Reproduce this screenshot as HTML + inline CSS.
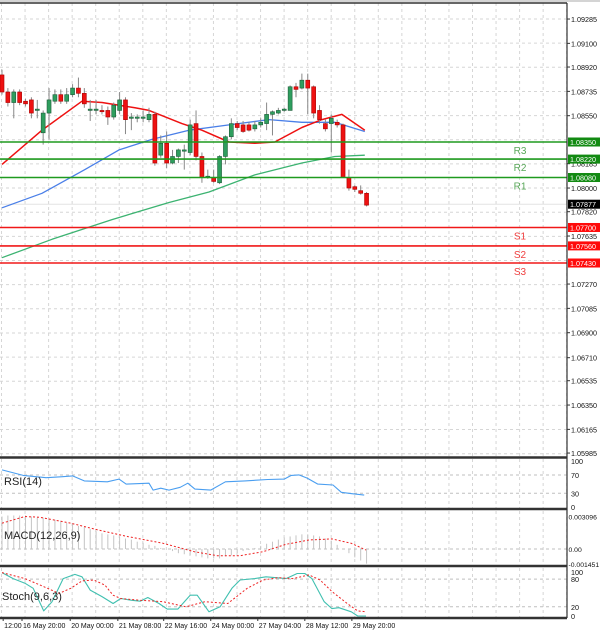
<!DOCTYPE html>
<html><head><meta charset="utf-8">
<style>
html,body{margin:0;padding:0;background:#fff;}
svg{display:block;font-family:"Liberation Sans",sans-serif;}
</style></head>
<body>
<svg id="chart" width="600" height="632" viewBox="0 0 600 632" xmlns="http://www.w3.org/2000/svg"></svg>
<script>
// ---- data ----
const opens=[1.0886,1.0873,1.0865,1.0873,1.0866,1.0867,1.0859,1.0842,1.0857,1.0866,1.0871,1.0866,1.0871,1.0876,1.0872,1.0859,1.0859,1.0859,1.0859,1.0854,1.0859,1.0867,1.0853,1.0853,1.0853,1.0852,1.0856,1.0825,1.0834,1.0819,1.0824,1.0828,1.0827,1.0849,1.0824,1.0808,1.0808,1.0804,1.0824,1.0839,1.0849,1.0848,1.0848,1.0845,1.0848,1.0849,1.0856,1.0857,1.0859,1.0859,1.0877,1.0876,1.0882,1.0877,1.0859,1.0849,1.0849,1.0850,1.0848,1.0808,1.0801,1.0798,1.0796];
const closes=[1.0873,1.0865,1.0873,1.0865,1.0864,1.0857,1.0860,1.0857,1.0867,1.0871,1.0866,1.0871,1.0876,1.0872,1.0864,1.0860,1.0860,1.0858,1.0854,1.0863,1.0867,1.0852,1.0854,1.0854,1.0854,1.0856,1.0819,1.0834,1.0819,1.0824,1.0829,1.0829,1.0848,1.0824,1.0808,1.0809,1.0805,1.0824,1.0839,1.0849,1.0846,1.0843,1.0844,1.0848,1.0850,1.0856,1.0858,1.0859,1.0860,1.0877,1.0875,1.0882,1.0876,1.0857,1.0852,1.0845,1.0853,1.0848,1.0808,1.0800,1.0799,1.0796,1.0787];
const highs=[1.0890,1.0876,1.0875,1.0875,1.0868,1.0869,1.0867,1.0859,1.0876,1.0875,1.0875,1.0876,1.0879,1.0884,1.0876,1.0867,1.0867,1.0863,1.0862,1.0865,1.0873,1.0869,1.0857,1.0856,1.0859,1.0861,1.0858,1.0840,1.0843,1.0829,1.0830,1.0833,1.0852,1.0859,1.0827,1.0814,1.0814,1.0825,1.0840,1.0853,1.0851,1.0851,1.0850,1.0851,1.0853,1.0865,1.0859,1.0861,1.0861,1.0878,1.0880,1.0887,1.0887,1.0878,1.0863,1.0852,1.0856,1.0852,1.0849,1.0814,1.0802,1.0802,1.0797];
const lows=[1.0871,1.0862,1.0853,1.0863,1.0862,1.0853,1.0853,1.0833,1.0837,1.0864,1.0864,1.0864,1.0869,1.0869,1.0861,1.0851,1.0856,1.0856,1.0848,1.0852,1.0856,1.0841,1.0844,1.0850,1.0850,1.0850,1.0817,1.0823,1.0815,1.0818,1.0819,1.0814,1.0825,1.0821,1.0804,1.0807,1.0804,1.0803,1.0818,1.0837,1.0844,1.0842,1.0843,1.0843,1.0846,1.0844,1.0840,1.0856,1.0858,1.0859,1.0869,1.0875,1.0856,1.0853,1.0849,1.0843,1.0827,1.0846,1.0808,1.0798,1.0797,1.0795,1.0786];
const maFastIdx=[0,6.8,13.6,17,22.6,25,30.6,34,38.6,43,46.4,51,54.4,57.8,61.7];
const maFastVal=[1.0818,1.0844,1.0866,1.0865,1.0861,1.0859,1.0849,1.0844,1.0835,1.0834,1.0835,1.0846,1.0852,1.0856,1.0844];
const maMidIdx=[0,6.8,14.1,19.9,25.5,31.8,38.6,45.4,51,56.6,61.7];
const maMidVal=[1.0785,1.0796,1.0814,1.0829,1.0837,1.0844,1.0848,1.0852,1.0850,1.0850,1.0843];
const maSlowIdx=[0,8.5,18.7,28.4,35.2,43,51,56.6,61.7];
const maSlowVal=[1.0747,1.0761,1.0776,1.0789,1.0797,1.0810,1.0819,1.0824,1.0825];
const levelNames=["R3","R2","R1","S1","S2","S3"];
const levelVals=[1.0835,1.0822,1.0808,1.0770,1.0756,1.0743];
const levelLabels=["1.08350","1.08220","1.08080","1.07700","1.07560","1.07430"];
const lastPrice=1.07877;
const priceTicks=["1.09285","1.09100","1.08920","1.08735","1.08550","1.08185","1.08000","1.07820","1.07635","1.07270","1.07085","1.06900","1.06710","1.06535","1.06350","1.06165","1.05985"];
const rsiIdx=[0,3.6,7.5,10,12,14,17.9,19.9,21.1,25,25.7,27,28.4,30.3,31.6,32.8,35.5,38,41.3,45.2,48,49.2,50.5,51.9,53.7,56.3,57.7,59.5,61.6];
const rsiVal=[81,69,64,66,68,57,55,61,50,52,37,41,37,43,52,39,37,55,57,60,61,69,70,63,50,48,32,29,26];
const macdHist=[3.1,3.2,3.2,3.2,3.2,3.1,3.0,3.0,2.9,2.8,2.7,2.5,2.4,2.2,2.1,1.9,1.7,1.5,1.4,1.3,1.2,1.0,0.9,0.7,0.6,0.4,0.3,0.1,0.0,-0.2,-0.4,-0.5,-0.6,-0.7,-0.8,-0.9,-0.9,-0.9,-0.7,-0.6,-0.4,-0.2,-0.1,0.1,0.3,0.5,0.7,0.9,1.1,1.2,1.3,1.4,1.4,1.3,1.2,1.0,0.8,0.4,0.0,-0.4,-0.8,-1.1,-1.4];
const macdSigIdx=[0,3.9,6.5,11.7,16.3,21.4,27.4,32.7,36.6,40.5,44.4,48.3,52.2,56.1,59.4,61.9];
const macdSigVal=[2.46,3.1,3.03,2.46,1.82,1.18,0.54,-0.26,-0.64,-0.64,-0.26,0.45,0.86,0.96,0.54,-0.1];
const stochKIdx=[0,1.9,3.9,5.3,7.1,8.5,10.4,12.4,13.6,15,17,18.9,20.2,22.1,23.5,24.8,26.7,28.1,29.9,32,33.2,35.2,37.1,39.1,40.5,43,44.9,48.3,50.2,51.5,52.7,54.8,56.1,57.3,59.4,60.5,61.9];
const stochKVal=[94,81,71,60,11,31,81,90,85,56,42,27,38,34,32,40,27,15,15,45,45,9,20,60,78,81,85,81,92,92,81,31,16,18,9,0,0];
const stochDIdx=[0,3.9,6.5,9.7,11.7,13.6,15.6,17.5,18.9,20.2,23.5,27.4,31.3,34.5,38.4,41.7,44.4,46.9,49.5,52.2,54.1,56.1,58.7,60.5,61.9];
const stochDVal=[94,81,67,49,60,76,78,67,45,38,34,31,20,31,27,60,78,83,81,89,78,53,27,11,9];
const timeLabels=["12:00","16 May 20:00","20 May 00:00","21 May 08:00","22 May 16:00","24 May 00:00","27 May 04:00","28 May 12:00","29 May 20:00"];
const timeIdx=[0.2,3.4,11.6,19.7,27.5,35.5,43.5,51.5,59.5];

// ---- scales ----
const PLOT_R=567;
const xS=i=>2+i*5.88;
const yP=p=>142+(1.0835-p)*13152;
const yRsi=v=>507-0.458*v;
const yMacd=v=>549-v*10.47; // v in 1e-3
const ySto=v=>616-0.4617*v;

const svg=document.getElementById('chart');
const NS='http://www.w3.org/2000/svg';
function mk(tag,attrs,parent){const e=document.createElementNS(NS,tag);for(const k in attrs)e.setAttribute(k,attrs[k]);(parent||svg).appendChild(e);return e;}
function txt(str,attrs,parent){const e=mk('text',attrs,parent);e.textContent=str;return e;}

// grid
const grid=mk('g',{});


for(let x=1.5;x<PLOT_R;x+=23.55){
  [[3,456],[459,508],[511,565],[568,617]].forEach(r=>mk('line',{x1:x,x2:x,y1:r[0],y2:r[1],stroke:'#d6d6d6','stroke-dasharray':'3,3','stroke-width':1},grid));
}
for(let y=19;y<456;y+=24.15){mk('line',{x1:0,x2:PLOT_R,y1:y,y2:y,stroke:'#d6d6d6','stroke-dasharray':'3,3'},grid);}
[yRsi(70),yRsi(30),yMacd(0),ySto(80),ySto(20)].forEach(y=>mk('line',{x1:0,x2:PLOT_R,y1:y,y2:y,stroke:'#bfbfbf','stroke-dasharray':'3,3'},grid));

// price tick labels
const axis=mk('g',{});


priceTicks.forEach(t=>{const y=yP(parseFloat(t));
  mk('line',{x1:PLOT_R,x2:PLOT_R+3,y1:y,y2:y,stroke:'#333'},axis);
  const e=txt(t,{x:571,y:y+3,'font-size':7.2,fill:'#111'},axis);
  
  
});

// last price line
mk('line',{x1:0,x2:PLOT_R,y1:yP(lastPrice),y2:yP(lastPrice),stroke:'#e4e4e4'});

// moving averages
function poly(idx,vals,yf,color,w,dash,name){
  const pts=idx.map((v,i)=>xS(v).toFixed(1)+','+yf(vals[i]).toFixed(1)).join(' ');
  const e=mk('polyline',{points:pts,fill:'none',stroke:color,'stroke-width':w,'stroke-linejoin':'round'});
  if(dash)e.setAttribute('stroke-dasharray',dash);
  
  
  return e;
}
poly(maSlowIdx,maSlowVal,yP,'#3cb371',1.3,null,'ma-slow-line');
poly(maMidIdx,maMidVal,yP,'#4a7fe8',1.3,null,'ma-mid-line');
poly(maFastIdx,maFastVal,yP,'#ee1111',1.5,null,'ma-fast-line');

// candles
const cg=mk('g',{});


opens.forEach((o,i)=>{
  const c=closes[i],x=xS(i),up=c>=o;
  mk('line',{x1:x,x2:x,y1:yP(highs[i]),y2:yP(lows[i]),stroke:'#888'},cg);
  const top=yP(Math.max(o,c)),bot=yP(Math.min(o,c));
  const r=mk('rect',{x:x-2,y:top,width:4,height:Math.max(1,bot-top),fill:up?'#2e9e5e':'#ee1111',stroke:up?'#1e5e3a':'#aa0000','stroke-width':0.6},cg);
  
  
});

// levels
levelNames.forEach((n,i)=>{
  const y=yP(levelVals[i]),res=n[0]==='R',col=res?'#1f9a1f':'#f01818';
  const l=mk('line',{x1:0,x2:PLOT_R,y1:y,y2:y,stroke:col,'stroke-width':1.6});
  
  
  const t=txt(n,{x:520,y:y+12,'font-size':10,fill:res?'#5aa85a':'#f04040','text-anchor':'middle'});
  
  
  mk('rect',{x:568,y:y-4.5,width:32,height:9,fill:res?'#128a12':'#ff0a0a'});
  const b=txt(levelLabels[i],{x:570,y:y+3,'font-size':7.2,fill:'#fff'});
  
  
});
mk('rect',{x:568,y:yP(lastPrice)-4.5,width:32,height:9,fill:'#000'});
const lp=txt('1.07877',{x:570,y:yP(lastPrice)+3,'font-size':7.2,fill:'#fff'});



// RSI
poly(rsiIdx,rsiVal,yRsi,'#4a9ef0',1.1,null,'rsi-line');
[['100',100],['70',70],['30',30],['0',0]].forEach(a=>{const e=txt(a[0],{x:571,y:yRsi(a[1])+3,'font-size':7.2,fill:'#111'});});
const rl=txt('RSI(14)',{x:4,y:485,'font-size':11,fill:'#222'});



// MACD
const hg=mk('g',{});


macdHist.forEach((v,i)=>{const x=xS(i);mk('line',{x1:x,x2:x,y1:yMacd(0),y2:yMacd(v),stroke:'#c4c4c4','stroke-width':1},hg);});
poly(macdSigIdx,macdSigVal,yMacd,'#ee2222',1,'2,2','macd-signal-line');
[['0.003096',3.096],['0.00',0],['-0.001451',-1.451]].forEach(a=>{const e=txt(a[0],{x:568.5,y:yMacd(a[1])+3,'font-size':6.8,fill:'#111'});});
const ml=txt('MACD(12,26,9)',{x:4,y:539,'font-size':11,fill:'#222'});



// Stoch
poly(stochKIdx,stochKVal,ySto,'#40c0b0',1.1,null,'stoch-k-line');
poly(stochDIdx,stochDVal,ySto,'#ee2222',1,'2,2','stoch-d-line');
[['100',100],['80',80],['20',20],['0',0]].forEach(a=>{const e=txt(a[0],{x:571,y:ySto(a[1])+(a[0]==='100'?5:3),'font-size':7.2,fill:'#111'});});
const sl=txt('Stoch(9,6,3)',{x:2,y:600,'font-size':11,fill:'#222'});



// panel borders
const bg=mk('g',{});


mk('line',{x1:0,x2:600,y1:1,y2:1,stroke:'#aaa','stroke-width':1},bg);
mk('line',{x1:0,x2:PLOT_R,y1:3,y2:3,stroke:'#333','stroke-width':1.5},bg);
[457.5,509,566,618].forEach(y=>mk('line',{x1:0,x2:PLOT_R,y1:y,y2:y,stroke:'#333','stroke-width':2.5},bg));
mk('line',{x1:PLOT_R,x2:PLOT_R,y1:3,y2:618,stroke:'#333','stroke-width':1.2},bg);

// time labels
timeLabels.forEach((t,i)=>{
  const x=xS(timeIdx[i]);
  mk('line',{x1:x,x2:x,y1:618,y2:621,stroke:'#333'});
  const e=txt(t,{x:x+1,y:628,'font-size':7,fill:'#111','text-anchor':'start'});
  
  
});
</script>
</body></html>
